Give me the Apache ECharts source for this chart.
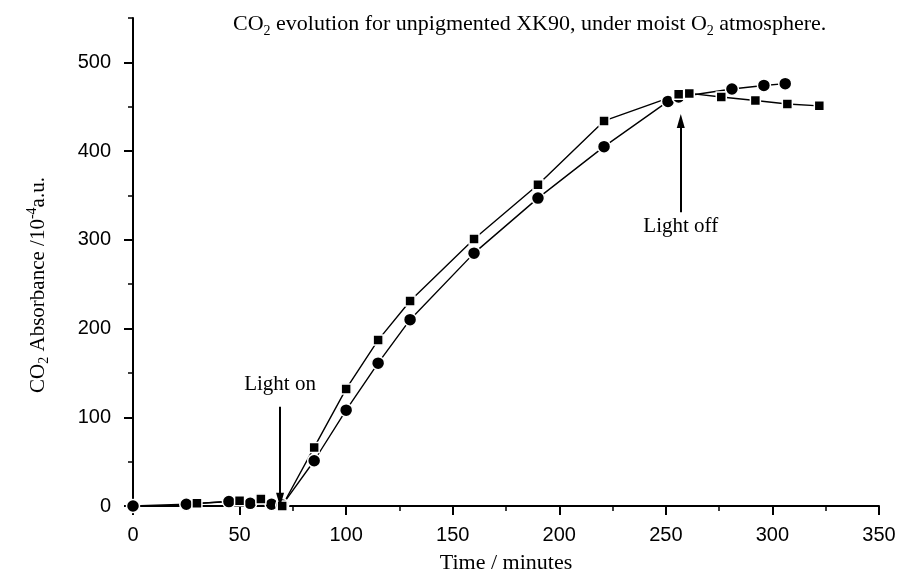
<!DOCTYPE html>
<html>
<head>
<meta charset="utf-8">
<style>
  html, body { margin: 0; padding: 0; background: #fff; }
  #chart { width: 906px; height: 579px; }
</style>
<script src="https://cdn.jsdelivr.net/npm/echarts@6/dist/echarts.min.js"></script>
</head>
<body>
<div id="chart"></div>
<script>
// Run with circle markers: time (min) and CO2 absorbance (10^-4 a.u.)
const circleTime = [0, 25, 45, 55, 65, 70, 85, 100, 115, 130, 160, 190, 221, 251, 256, 281, 296, 306];
const circleCO2  = [0, 2, 5, 3, 2, 1, 51, 108, 161, 210, 285, 347, 405, 456, 461, 470, 474, 476];

// Run with square markers
const squareTime = [30, 50, 60, 70, 85, 100, 115, 130, 160, 190, 221, 256, 261, 276, 292, 307, 322];
const squareCO2  = [3, 6, 8, 0, 66, 132, 187, 231, 301, 362, 434, 464, 465, 461, 457, 453, 451];

// Axis tick values
const yLabelTicks = [0, 100, 200, 300, 400, 500];
const yAllTicks = [0, 50, 100, 150, 200, 250, 300, 350, 400, 450, 500, 550];

const serif = '"Liberation Serif", "DejaVu Serif", serif';
const sans = '"Liberation Sans", Arial, sans-serif';

const pairs = (xs, ys) => xs.map((x, i) => [x, ys[i]]);

// Rich-text styles for sub/superscripts in serif labels
const richSerif = (size) => ({
  n: { fontFamily: serif, fontSize: size, fontWeight: 'normal', color: '#000', lineHeight: size + 5, verticalAlign: 'middle' },
  s: { fontFamily: serif, fontSize: 14, fontWeight: 'normal', color: '#000', lineHeight: 14, verticalAlign: 'bottom' },
  p: { fontFamily: serif, fontSize: 14, fontWeight: 'normal', color: '#000', lineHeight: 14, verticalAlign: 'top' }
});

const chart = echarts.init(document.getElementById('chart'), null, { renderer: 'canvas' });

const baseY = {
  type: 'value',
  min: 0,
  max: 550,
  position: 'left',
  splitLine: { show: false }
};

chart.setOption({
  animation: false,
  backgroundColor: '#fff',
  title: {
    text: '{n|CO}{s|2}{n| evolution for unpigmented XK90, under moist O}{s|2}{n| atmosphere.}',
    left: 228,
    top: 6,
    textStyle: { fontWeight: 'normal', rich: richSerif(22) }
  },
  grid: { left: 133, right: 27, top: 18, bottom: 72, containLabel: false },
  xAxis: {
    type: 'value',
    min: 0,
    max: 350,
    interval: 50,
    name: 'Time / minutes',
    nameLocation: 'middle',
    nameGap: 46,
    nameTextStyle: { fontFamily: serif, fontSize: 22, color: '#000' },
    axisLine: { onZero: false, lineStyle: { color: '#000', width: 2 } },
    axisTick: { length: 9, lineStyle: { color: '#000', width: 2 } },
    minorTick: { show: true, splitNumber: 2, length: 5, lineStyle: { color: '#000', width: 1.5 } },
    axisLabel: { margin: 19, fontFamily: sans, fontSize: 20, color: '#000' },
    splitLine: { show: false }
  },
  yAxis: [
    Object.assign({}, baseY, {
      name: '{n|CO}{s|2}{n| Absorbance /10}{p|-4}{n|a.u.}',
      nameLocation: 'middle',
      nameRotate: 90,
      nameGap: 82,
      nameTextStyle: { padding: [0, 46, 0, 0], rich: richSerif(21) },
      axisLine: { lineStyle: { color: '#000', width: 2 } },
      axisTick: { customValues: yAllTicks, length: 5, lineStyle: { color: '#000', width: 1.5 } },
      axisLabel: { customValues: yLabelTicks, margin: 22, fontFamily: sans, fontSize: 20, color: '#000' }
    }),
    Object.assign({}, baseY, {
      axisLine: { show: false },
      axisTick: { customValues: yLabelTicks, length: 9, lineStyle: { color: '#000', width: 2 } },
      axisLabel: { show: false }
    })
  ],
  series: [
    {
      name: 'circles',
      type: 'line',
      data: pairs(circleTime, circleCO2),
      symbol: 'circle',
      symbolSize: 13,
      itemStyle: { color: '#000', borderColor: '#fff', borderWidth: 1.5 },
      lineStyle: { color: '#000', width: 1.4 },
      z: 3,
      markLine: {
        silent: true,
        symbol: ['none', 'triangle'],
        symbolSize: [8, 14],
        lineStyle: { color: '#000', width: 2, type: 'solid' },
        label: {
          show: true,
          position: 'start',
          fontFamily: serif,
          fontSize: 21,
          color: '#000'
        },
        data: [
          [
            { coord: [69, 112], label: { formatter: 'Light on', distance: 12 } },
            { coord: [69, 7] }
          ],
          [
            { coord: [257, 331], label: { formatter: 'Light off', distance: 4 } },
            { coord: [257, 434] }
          ]
        ]
      }
    },
    {
      name: 'squares',
      type: 'line',
      data: pairs(squareTime, squareCO2),
      symbol: 'rect',
      symbolSize: 10,
      itemStyle: { color: '#000', borderColor: '#fff', borderWidth: 1.5 },
      lineStyle: { color: '#000', width: 1.4 },
      z: 3
    }
  ]
});
</script>
</body>
</html>
